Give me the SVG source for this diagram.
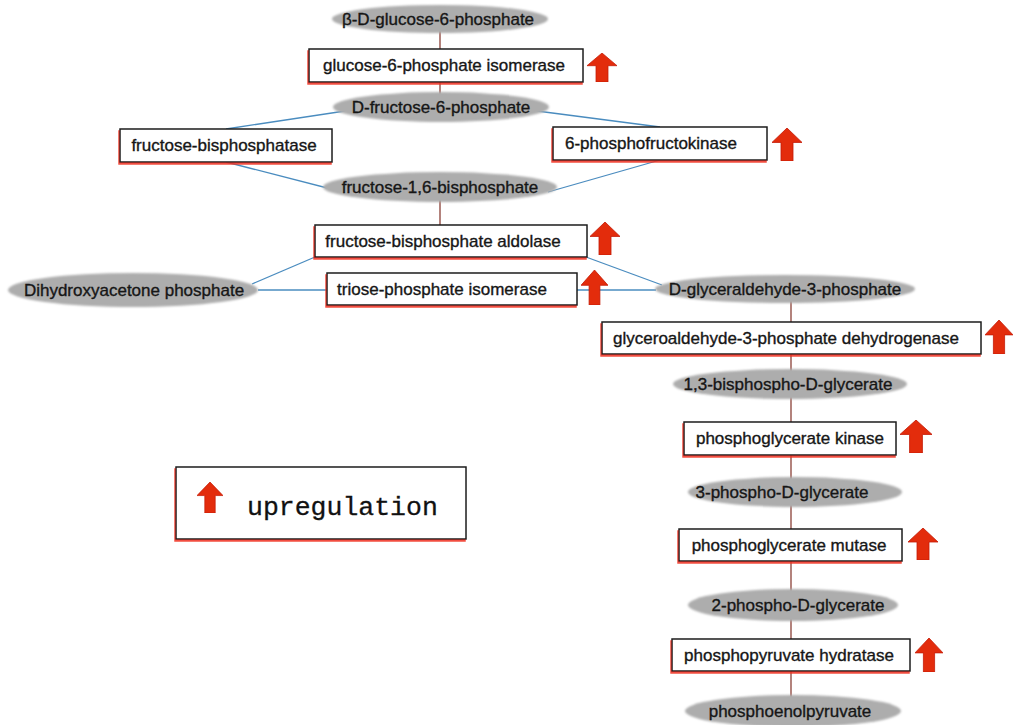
<svg xmlns="http://www.w3.org/2000/svg" xmlns:xlink="http://www.w3.org/1999/xlink" width="1013" height="725" viewBox="0 0 1013 725">
<defs>
<style>
.box{fill:#fff;stroke:#1e1e1e;stroke-width:1.5;filter:url(#redsh)}
.met{fill:#adadad;filter:url(#soft)}
.t{font-family:"Liberation Sans",Arial,sans-serif;font-size:17px;fill:#161616;stroke:#161616;stroke-width:0.35;text-anchor:middle}
.vl{stroke:#8a4036;stroke-width:1.3;fill:none}
.bl{stroke:#4a8cbf;stroke-width:1.3;fill:none}
.leg{font-family:"Liberation Mono","Courier New",monospace;font-size:26.5px;fill:#111;stroke:#111;stroke-width:0.3}
</style>
<filter id="redsh" x="-5%" y="-20%" width="110%" height="140%">
<feOffset in="SourceAlpha" dx="-1" dy="2" result="o"/>
<feFlood flood-color="#f03020" flood-opacity="0.85"/>
<feComposite in2="o" operator="in" result="s"/>
<feMerge><feMergeNode in="s"/><feMergeNode in="SourceGraphic"/></feMerge>
</filter>
<filter id="soft" x="-5%" y="-20%" width="110%" height="140%">
<feGaussianBlur stdDeviation="1"/>
</filter>
<symbol id="up" viewBox="0 0 30 32" preserveAspectRatio="none">
<path d="M15 0 L30 14 L21 14 L21 32 L9 32 L9 14 L0 14 Z" fill="#e32c0c" stroke="#c41a06" stroke-width="0.8"/>
</symbol>
</defs>
<rect width="1013" height="725" fill="#fff"/>

<g id="connectors">
<line class="vl" x1="440" y1="19" x2="440" y2="106"/>
<line class="vl" x1="440" y1="187" x2="440" y2="240"/>
<line class="vl" x1="791" y1="289" x2="791" y2="711"/>
<line class="bl" x1="345" y1="111" x2="226" y2="129"/>
<line class="bl" x1="537" y1="111" x2="660" y2="127"/>
<line class="bl" x1="226" y1="162" x2="335" y2="190"/>
<line class="bl" x1="660" y1="160" x2="548" y2="192"/>
<line class="bl" x1="315" y1="257" x2="252" y2="284"/>
<line class="bl" x1="586" y1="257" x2="662" y2="285"/>
<line class="bl" x1="258" y1="290" x2="327" y2="290"/>
<line class="bl" x1="577" y1="290" x2="656" y2="290"/>
</g>

<g id="glucose6p"><ellipse class="met" cx="440" cy="19" rx="108" ry="14"/><text class="t" x="438" y="25">β-D-glucose-6-phosphate</text></g>
<g id="gpi"><rect class="box" x="309" y="49" width="274" height="33"/><text class="t" x="444" y="71">glucose-6-phosphate isomerase</text><use xlink:href="#up" x="587" y="53" width="30" height="29"/></g>
<g id="fructose6p"><ellipse class="met" cx="441" cy="107" rx="108" ry="15"/><text class="t" x="441" y="113">D-fructose-6-phosphate</text></g>
<g id="fbpase"><rect class="box" x="120" y="129" width="212" height="33"/><text class="t" x="224" y="151">fructose-bisphosphatase</text></g>
<g id="pfk"><rect class="box" x="553" y="127" width="214" height="33"/><text class="t" x="651" y="149">6-phosphofructokinase</text><use xlink:href="#up" x="772" y="128" width="30" height="33"/></g>
<g id="fructose16bp"><ellipse class="met" cx="440" cy="187" rx="117" ry="15"/><text class="t" x="440" y="193">fructose-1,6-bisphosphate</text></g>
<g id="aldolase"><rect class="box" x="315" y="225" width="272" height="32"/><text class="t" x="443" y="247">fructose-bisphosphate aldolase</text><use xlink:href="#up" x="590" y="222" width="30" height="33"/></g>
<g id="dhap"><ellipse class="met" cx="133" cy="290" rx="125" ry="17"/><text class="t" x="134" y="296">Dihydroxyacetone phosphate</text></g>
<g id="tpi"><rect class="box" x="327" y="273" width="250" height="32"/><text class="t" x="442" y="295">triose-phosphate isomerase</text><use xlink:href="#up" x="581" y="270" width="27" height="35"/></g>
<g id="g3p"><ellipse class="met" cx="785" cy="289" rx="130" ry="14"/><text class="t" x="785" y="295">D-glyceraldehyde-3-phosphate</text></g>
<g id="gapdh"><rect class="box" x="602" y="322" width="379" height="32"/><text class="t" x="786" y="344">glyceroaldehyde-3-phosphate dehydrogenase</text><use xlink:href="#up" x="985" y="320" width="28" height="34"/></g>
<g id="bpg13"><ellipse class="met" cx="790" cy="384" rx="117" ry="15"/><text class="t" x="788" y="390">1,3-bisphospho-D-glycerate</text></g>
<g id="pgk"><rect class="box" x="684" y="422" width="212" height="33"/><text class="t" x="790" y="444">phosphoglycerate kinase</text><use xlink:href="#up" x="900" y="420" width="32" height="33"/></g>
<g id="pg3"><ellipse class="met" cx="795" cy="492" rx="107" ry="15"/><text class="t" x="782" y="498">3-phospho-D-glycerate</text></g>
<g id="pgm"><rect class="box" x="679" y="529" width="223" height="32"/><text class="t" x="789" y="551">phosphoglycerate mutase</text><use xlink:href="#up" x="908" y="528" width="30" height="32"/></g>
<g id="pg2"><ellipse class="met" cx="793" cy="605" rx="105" ry="16"/><text class="t" x="798" y="611">2-phospho-D-glycerate</text></g>
<g id="eno"><rect class="box" x="672" y="639" width="238" height="32"/><text class="t" x="789" y="661">phosphopyruvate hydratase</text><use xlink:href="#up" x="915" y="638" width="28" height="34"/></g>
<g id="pep"><ellipse class="met" cx="793" cy="711" rx="108" ry="16"/><text class="t" x="790" y="717">phosphoenolpyruvate</text></g>

<g id="legend"><rect class="box" x="176" y="467" width="290" height="72"/><use xlink:href="#up" x="197" y="482" width="26" height="31"/><text class="leg" x="247" y="515">upregulation</text></g>
</svg>
